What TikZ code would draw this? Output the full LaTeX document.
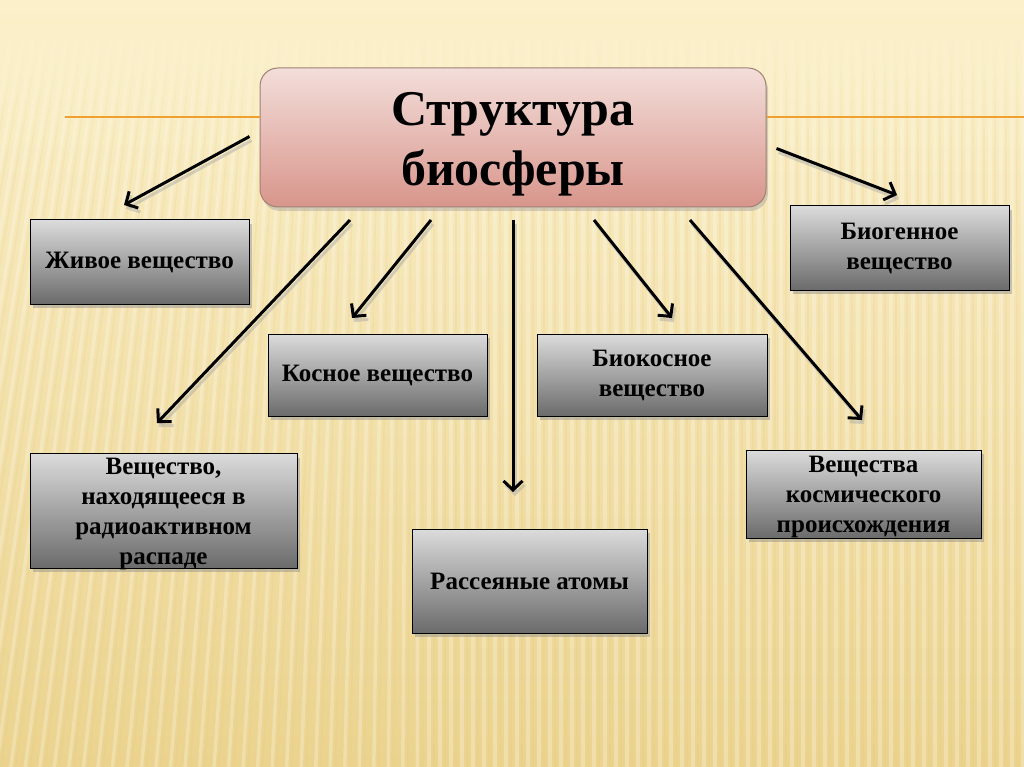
\documentclass[tikz,border=0pt]{standalone}
\usepackage{fontspec}
\setmainfont{Liberation Serif}
\usetikzlibrary{arrows.meta, calc, shadows, fadings}

\definecolor{bgtop}{HTML}{FBF0CA}
\definecolor{bgbot}{HTML}{EBD38E}
\definecolor{orangeline}{HTML}{F0A030}
\definecolor{pinktop}{HTML}{F3DEDA}
\definecolor{pinkbot}{HTML}{D8958B}
\definecolor{pinkedge}{HTML}{A08075}

\tikzfading[name=fadedown, top color=transparent!0, bottom color=transparent!100]

\tikzset{
  graybox/.style={draw=black, line width=1pt, top color=black!14, bottom color=black!58,
    drop shadow={shadow xshift=3pt, shadow yshift=-4pt, fill=black!45, opacity=0.45},
    align=center, font=\fontsize{25}{30}\selectfont\bfseries, inner sep=4pt},
  titlebox/.style={draw=pinkedge, line width=1pt, rounded corners=18pt, top color=pinktop, bottom color=pinkbot,
    drop shadow={shadow xshift=2pt, shadow yshift=-4pt, fill=black!40, opacity=0.4}},
  arr/.style={line width=3pt, -{Straight Barb[length=9pt,width=19pt]}},
  arrsh/.style={line width=3pt, black!35, opacity=0.45, -{Straight Barb[length=9pt,width=19pt]}}
}

\begin{document}
\begin{tikzpicture}[x=1pt,y=-1pt]
\useasboundingbox (0,0) rectangle (1024,767);
% background
\shade[top color=bgtop, bottom color=bgbot] (0,0) rectangle (1024,767);
\foreach \x in {0,11,...,1100}{
  \pgfmathsetmacro{\sl}{\x<420 ? (420-\x)*0.32 : 0}
  \draw[white, line width=3.5pt, opacity=0.25] (\x,40) -- (\x-\sl,767);
  \draw[bgbot!80!brown, line width=1.5pt, opacity=0.15] (\x+5,40) -- (\x+5-\sl,767);
}
\fill[bgtop, path fading=fadedown] (0,30) rectangle (1024,170);

% title box and orange rule
\node[titlebox, minimum width=506pt, minimum height=139pt] (main) at (513,137.5) {};
\node[font=\fontsize{50}{60}\selectfont\bfseries, align=center] (title) at (513,144) {Структура\\биосферы};
\draw[orangeline, line width=2pt] (65,117) -- (main.west |- 0,117);
\draw[orangeline, line width=2pt] (main.east |- 0,117) -- (1024,117);

% boxes
\node[graybox, minimum width=219pt, minimum height=84pt] (zhivoe) at (139.5,262) {Живое вещество};
\node[graybox, minimum width=219pt, minimum height=82pt] (kosnoe) at (377.5,375) {Косное вещество};
\node[graybox, minimum width=230pt, minimum height=82pt] (biokos) at (652,375) {Биокосное\\вещество};
\node[graybox, minimum width=219pt, minimum height=84pt] (biogen) at (899.5,248) {Биогенное\\вещество};
\node[graybox, minimum width=267pt, minimum height=113pt, text depth=0pt] (radio) at (163.5,511) {Вещество,\\находящееся в\\радиоактивном\\распаде};
\node[graybox, minimum width=235pt, minimum height=104pt] (atoms) at (529.5,581) {Рассеяные атомы};
\node[graybox, minimum width=235pt, minimum height=88pt, text depth=0pt] (kosm) at (863.5,494) {Вещества\\космического\\происхождения};

% arrow ends
\coordinate (s1) at ($(main.west)+(-10,-1)$);   \coordinate (e1) at (124,205);
\coordinate (s2) at (350,220); \coordinate (e2) at (157,423);
\coordinate (s3) at (431,220); \coordinate (e3) at (352,318);
\coordinate (s4) at (513,220); \coordinate (e4) at (513,492);
\coordinate (s5) at (594,220); \coordinate (e5) at (672,318);
\coordinate (s6) at (690,220); \coordinate (e6) at (862,420);
\coordinate (s7) at ($(main.east)+(10,11)$);    \coordinate (e7) at (897,195);

\foreach \i in {1,...,7}{
  \draw[arrsh] ($(s\i)+(2,4)$) -- ($(e\i)+(2,4)$);
  \draw[arr] (s\i) -- (e\i);
}
\end{tikzpicture}
\end{document}
